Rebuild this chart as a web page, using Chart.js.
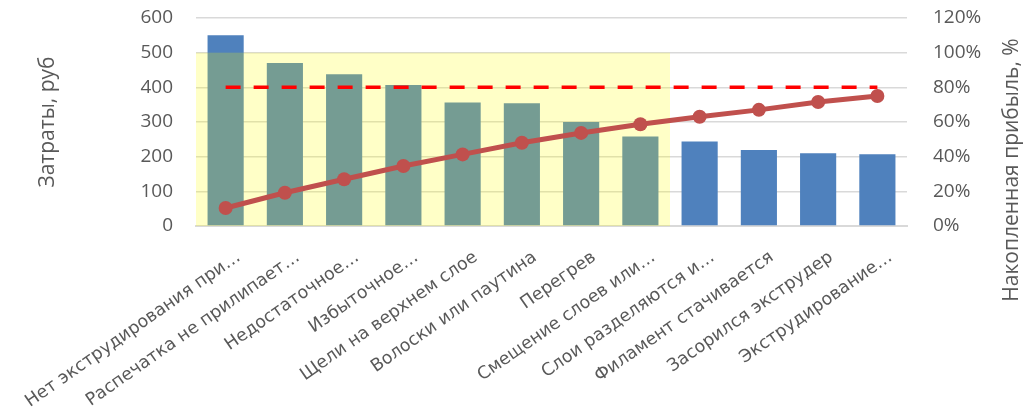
<!DOCTYPE html>
<html>
<head>
<meta charset="utf-8">
<script src="https://cdn.jsdelivr.net/npm/chart.js@4"></script>
<style>
  html, body { margin: 0; padding: 0; background: #fff; }
  #wrap { width: 1030px; height: 417px; position: relative; }
</style>
</head>
<body>
<div id="wrap"><canvas id="paretoChart"></canvas></div>
<script>
const categories = [
  'Нет экструдирования при…',
  'Распечатка не прилипает…',
  'Недостаточное…',
  'Избыточное…',
  'Щели на верхнем слое',
  'Волоски или паутина',
  'Перегрев',
  'Смещение слоев или…',
  'Слои разделяются и…',
  'Филамент стачивается',
  'Засорился экструдер',
  'Экструдирование…'
]
const costs = [550, 470, 438, 407, 356, 354, 300, 258, 244, 219, 210, 207]
const cumulative = [10.4, 19.2, 27, 34.6, 41.3, 48, 53.7, 58.7, 63, 67, 71.5, 75]
const threshold = [80, 80, 80, 80, 80, 80, 80, 80, 80, 80, 80, 80]
const costTicks = [0, 100, 200, 300, 400, 500, 600]
const pctTicks = [0, 20, 40, 60, 80, 100, 120]
const highlightCount = 8
const highlightTop = 500

const leftTitle = 'Затраты, руб'
const rightTitle = 'Накопленная прибыль, %'

const textColor = '#595959'
const gridColor = '#d9d9d9'
const numFont = { family: '"Open Sans", sans-serif', size: 19 }

// yellow zone over the first bars (drawn right after the bars)
const highlightPlugin = {
  id: 'highlight',
  afterDatasetDraw(chart, args) {
    if (args.meta.type !== 'bar') return
    const x = chart.scales.x, y = chart.scales.y
    const x0 = chart.chartArea.left
    const x1 = (x.getPixelForValue(highlightCount - 1) + x.getPixelForValue(highlightCount)) / 2
    const y0 = y.getPixelForValue(highlightTop)
    const y1 = y.getPixelForValue(0)
    const c = chart.ctx
    c.save()
    c.fillStyle = 'rgba(255, 255, 0, 0.22)'
    c.fillRect(x0, y0, x1 - x0, y1 - y0)
    c.restore()
  }
}

// both axis titles read bottom to top
const titlesPlugin = {
  id: 'titles',
  afterDraw(chart) {
    const c = chart.ctx
    c.save()
    c.fillStyle = textColor
    c.font = '21px "Open Sans", sans-serif'
    c.textAlign = 'center'
    c.textBaseline = 'middle'
    c.translate(48, 122)
    c.rotate(-Math.PI / 2)
    c.fillText(leftTitle, 0, 0)
    c.restore()
    c.save()
    c.fillStyle = textColor
    c.font = '21px "Open Sans", sans-serif'
    c.textAlign = 'center'
    c.textBaseline = 'middle'
    c.translate(1012, 170)
    c.rotate(-Math.PI / 2)
    c.fillText(rightTitle, 0, 0)
    c.restore()
  }
}

const fitY = (w) => (s) => {
  s.width = w
  s.paddingTop = 18
  s.paddingBottom = 0
}

const config = {
  data: {
    labels: categories,
    datasets: [{
      type: 'bar',
      data: costs,
      yAxisID: 'y',
      backgroundColor: '#4f81bd',
      categoryPercentage: 1,
      barPercentage: 0.61,
      order: 3
    }, {
      type: 'line',
      data: threshold,
      yAxisID: 'y1',
      borderColor: '#ff0000',
      borderWidth: 3.5,
      borderDash: [15, 13],
      pointRadius: 0,
      fill: false,
      order: 2
    }, {
      type: 'line',
      data: cumulative,
      yAxisID: 'y1',
      borderColor: '#c0504d',
      backgroundColor: '#c0504d',
      borderWidth: 5,
      pointRadius: 7,
      pointBorderWidth: 0,
      fill: false,
      order: 1
    }]
  },
  options: {
    responsive: true,
    maintainAspectRatio: false,
    animation: false,
    layout: { padding: 0 },
    plugins: {
      legend: { display: false },
      tooltip: { enabled: false }
    },
    scales: {
      x: {
        afterFit: (s) => {
          s.height = 191
          s.paddingLeft = 0
          s.paddingRight = 0
        },
        grid: { display: false, drawTicks: false },
        border: { color: gridColor, width: 2 },
        ticks: {
          color: textColor,
          font: { family: '"DejaVu Sans", sans-serif', size: 17.5 },
          maxRotation: 35,
          minRotation: 35,
          autoSkip: false,
          padding: 21,
          labelOffset: 13
        }
      },
      y: {
        position: 'left',
        min: 0,
        max: 600,
        afterFit: fitY(196),
        afterBuildTicks: (s) => { s.ticks = costTicks.map(v => ({ value: v })) },
        grid: { color: gridColor, lineWidth: 1.5, drawTicks: false },
        border: { display: false },
        ticks: { color: textColor, font: numFont, padding: 23 }
      },
      y1: {
        position: 'right',
        min: 0,
        max: 120,
        afterFit: fitY(123),
        afterBuildTicks: (s) => { s.ticks = pctTicks.map(v => ({ value: v })) },
        grid: { display: false, drawTicks: false },
        border: { display: false },
        ticks: { color: textColor, font: numFont, padding: 26, callback: (v) => v + '%' }
      }
    }
  },
  plugins: [highlightPlugin, titlesPlugin]
}

const paretoChart = new Chart(document.getElementById('paretoChart'), config)
</script>
</body>
</html>
